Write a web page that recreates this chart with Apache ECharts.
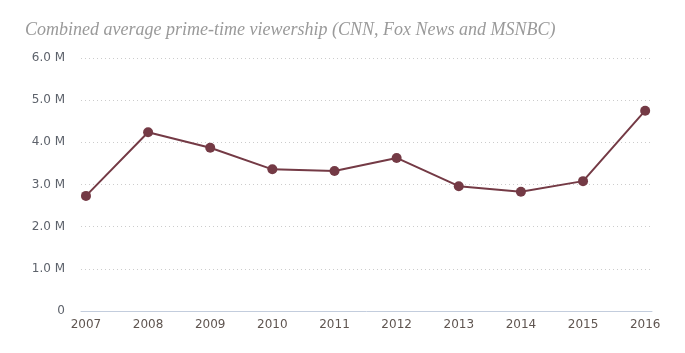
<!DOCTYPE html>
<html>
<head>
<meta charset="utf-8">
<script src="https://cdn.jsdelivr.net/npm/echarts@6/dist/echarts.min.js"></script>
<style>
  html, body { margin: 0; padding: 0; background: #fff; }
  #chart { width: 685px; height: 353px; }
</style>
</head>
<body>
<div id="chart"></div>
<script>
var years = [2007, 2008, 2009, 2010, 2011, 2012, 2013, 2014, 2015, 2016]
var viewers = [2.73, 4.24, 3.87, 3.36, 3.32, 3.63, 2.96, 2.83, 3.08, 4.75]
var yTicks = [0, 1, 2, 3, 4, 5, 6]

var chart = echarts.init(document.getElementById('chart'))

chart.setOption({
  animation: false,
  title: {
    text: 'Combined average prime-time viewership (CNN, Fox News and MSNBC)',
    left: 20,
    top: 16,
    textStyle: {
      fontFamily: 'Liberation Serif',
      fontStyle: 'italic',
      fontWeight: 'normal',
      fontSize: 18,
      color: '#9a9a9a'
    }
  },
  grid: {
    left: 81,
    right: 33,
    top: 58,
    bottom: 42
  },
  xAxis: {
    type: 'value',
    min: 2006.92,
    max: 2016.11,
    splitLine: { show: false },
    axisTick: { show: false },
    axisLine: { lineStyle: { color: '#c3cddd', width: 1 } },
    axisLabel: {
      customValues: years,
      formatter: function (v) { return String(Math.round(v)) },
      color: '#5f5550',
      fontFamily: 'DejaVu Sans',
      fontSize: 12,
      margin: 8
    }
  },
  yAxis: {
    type: 'value',
    min: 0,
    max: 6,
    interval: 1,
    axisLine: { show: false },
    axisTick: { show: false },
    axisLabel: {
      customValues: yTicks,
      formatter: function (v) { return v === 0 ? '0' : v.toFixed(1) + ' M' },
      color: '#5d626b',
      fontFamily: 'DejaVu Sans',
      fontSize: 12,
      margin: 16
    },
    splitLine: {
      lineStyle: { color: '#cccccc', type: [1, 3], width: 1 }
    }
  },
  series: [{
    type: 'line',
    data: years.map(function (y, i) { return [y, viewers[i]] }),
    symbol: 'circle',
    symbolSize: 10,
    lineStyle: { color: '#743a45', width: 2 },
    itemStyle: { color: '#743a45' }
  }]
})
</script>
</body>
</html>
